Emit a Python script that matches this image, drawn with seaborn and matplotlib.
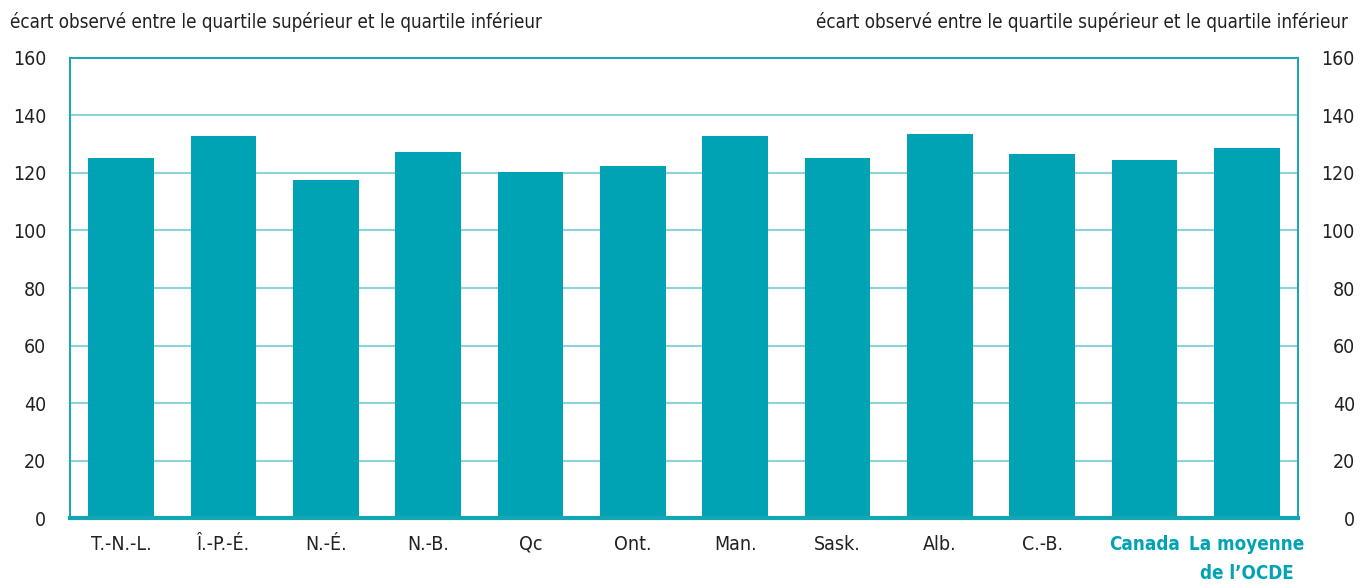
import matplotlib
matplotlib.use("Agg")
import matplotlib.pyplot as plt
import seaborn as sns
import pandas as pd

categories = ["T.-N.-L.", "Î.-P.-É.", "N.-É.", "N.-B.", "Qc", "Ont.", "Man.", "Sask.",
              "Alb.", "C.-B.", "Canada", "La moyenne\nde l’OCDE"]
values = [125.1, 132.8, 117.4, 127.2, 120.3, 122.3, 132.8, 125.1, 133.5, 126.5, 124.4, 128.6]
yticks = [0, 20, 40, 60, 80, 100, 120, 140, 160]
axis_label = "écart observé entre le quartile supérieur et le quartile inférieur"

BAR = "#00A3B4"
SPINE = "#14A6B5"
GRID = "#8DD3DA"

sns.set_style("white")
plt.rcParams["font.family"] = ["DejaVu Sans"]
plt.rcParams["font.stretch"] = "condensed"

fig = plt.figure(figsize=(13.68, 5.88), dpi=100)
ax = fig.add_axes([0.0512, 0.119, 0.8976, 0.7824])

df = pd.DataFrame({"cat": categories, "val": values})
sns.barplot(data=df, x="cat", y="val", color=BAR, saturation=1, width=0.64, ax=ax,
            zorder=3, edgecolor=BAR, linewidth=0)

ax.set_ylim(0, 160)
ax.set_xlim(-0.5, len(categories) - 0.5)
ax.set_yticks(yticks)
ax.set_xlabel("")
ax.set_ylabel("")
for y in yticks[1:-1]:
    ax.axhline(y, color=GRID, lw=1.5, zorder=1)
for name, s in ax.spines.items():
    s.set_visible(True)
    s.set_color(SPINE)
    s.set_linewidth(1.4)
ax.spines["bottom"].set_linewidth(3)
ax.spines["bottom"].set_zorder(4)

ax.tick_params(axis="y", length=0, labelsize=14, pad=17, labelcolor="#222222")
ax.tick_params(axis="x", length=0, labelsize=14, pad=12, labelcolor="#222222")
for lbl in ax.get_xticklabels():
    lbl.set_linespacing(1.7)
xl = ax.get_xticklabels()
for lbl in xl[-2:]:
    lbl.set_color(BAR)
    lbl.set_fontweight("bold")
    lbl.set_fontsize(13.5)

ax2 = ax.twinx()
ax2.set_ylim(0, 160)
ax2.set_yticks(yticks)
ax2.tick_params(axis="y", length=0, labelsize=14, pad=41, labelcolor="#222222")
for lbl in ax2.get_yticklabels():
    lbl.set_horizontalalignment("right")
for s in ax2.spines.values():
    s.set_visible(False)
ax2.grid(False)

fig.text(10 / 1368, 1 - 22 / 588, axis_label, fontsize=13.5, ha="left", va="center", color="#222222")
fig.text(1348 / 1368, 1 - 22 / 588, axis_label, fontsize=13.5, ha="right", va="center", color="#222222")

fig.savefig("out.png", dpi=100)
